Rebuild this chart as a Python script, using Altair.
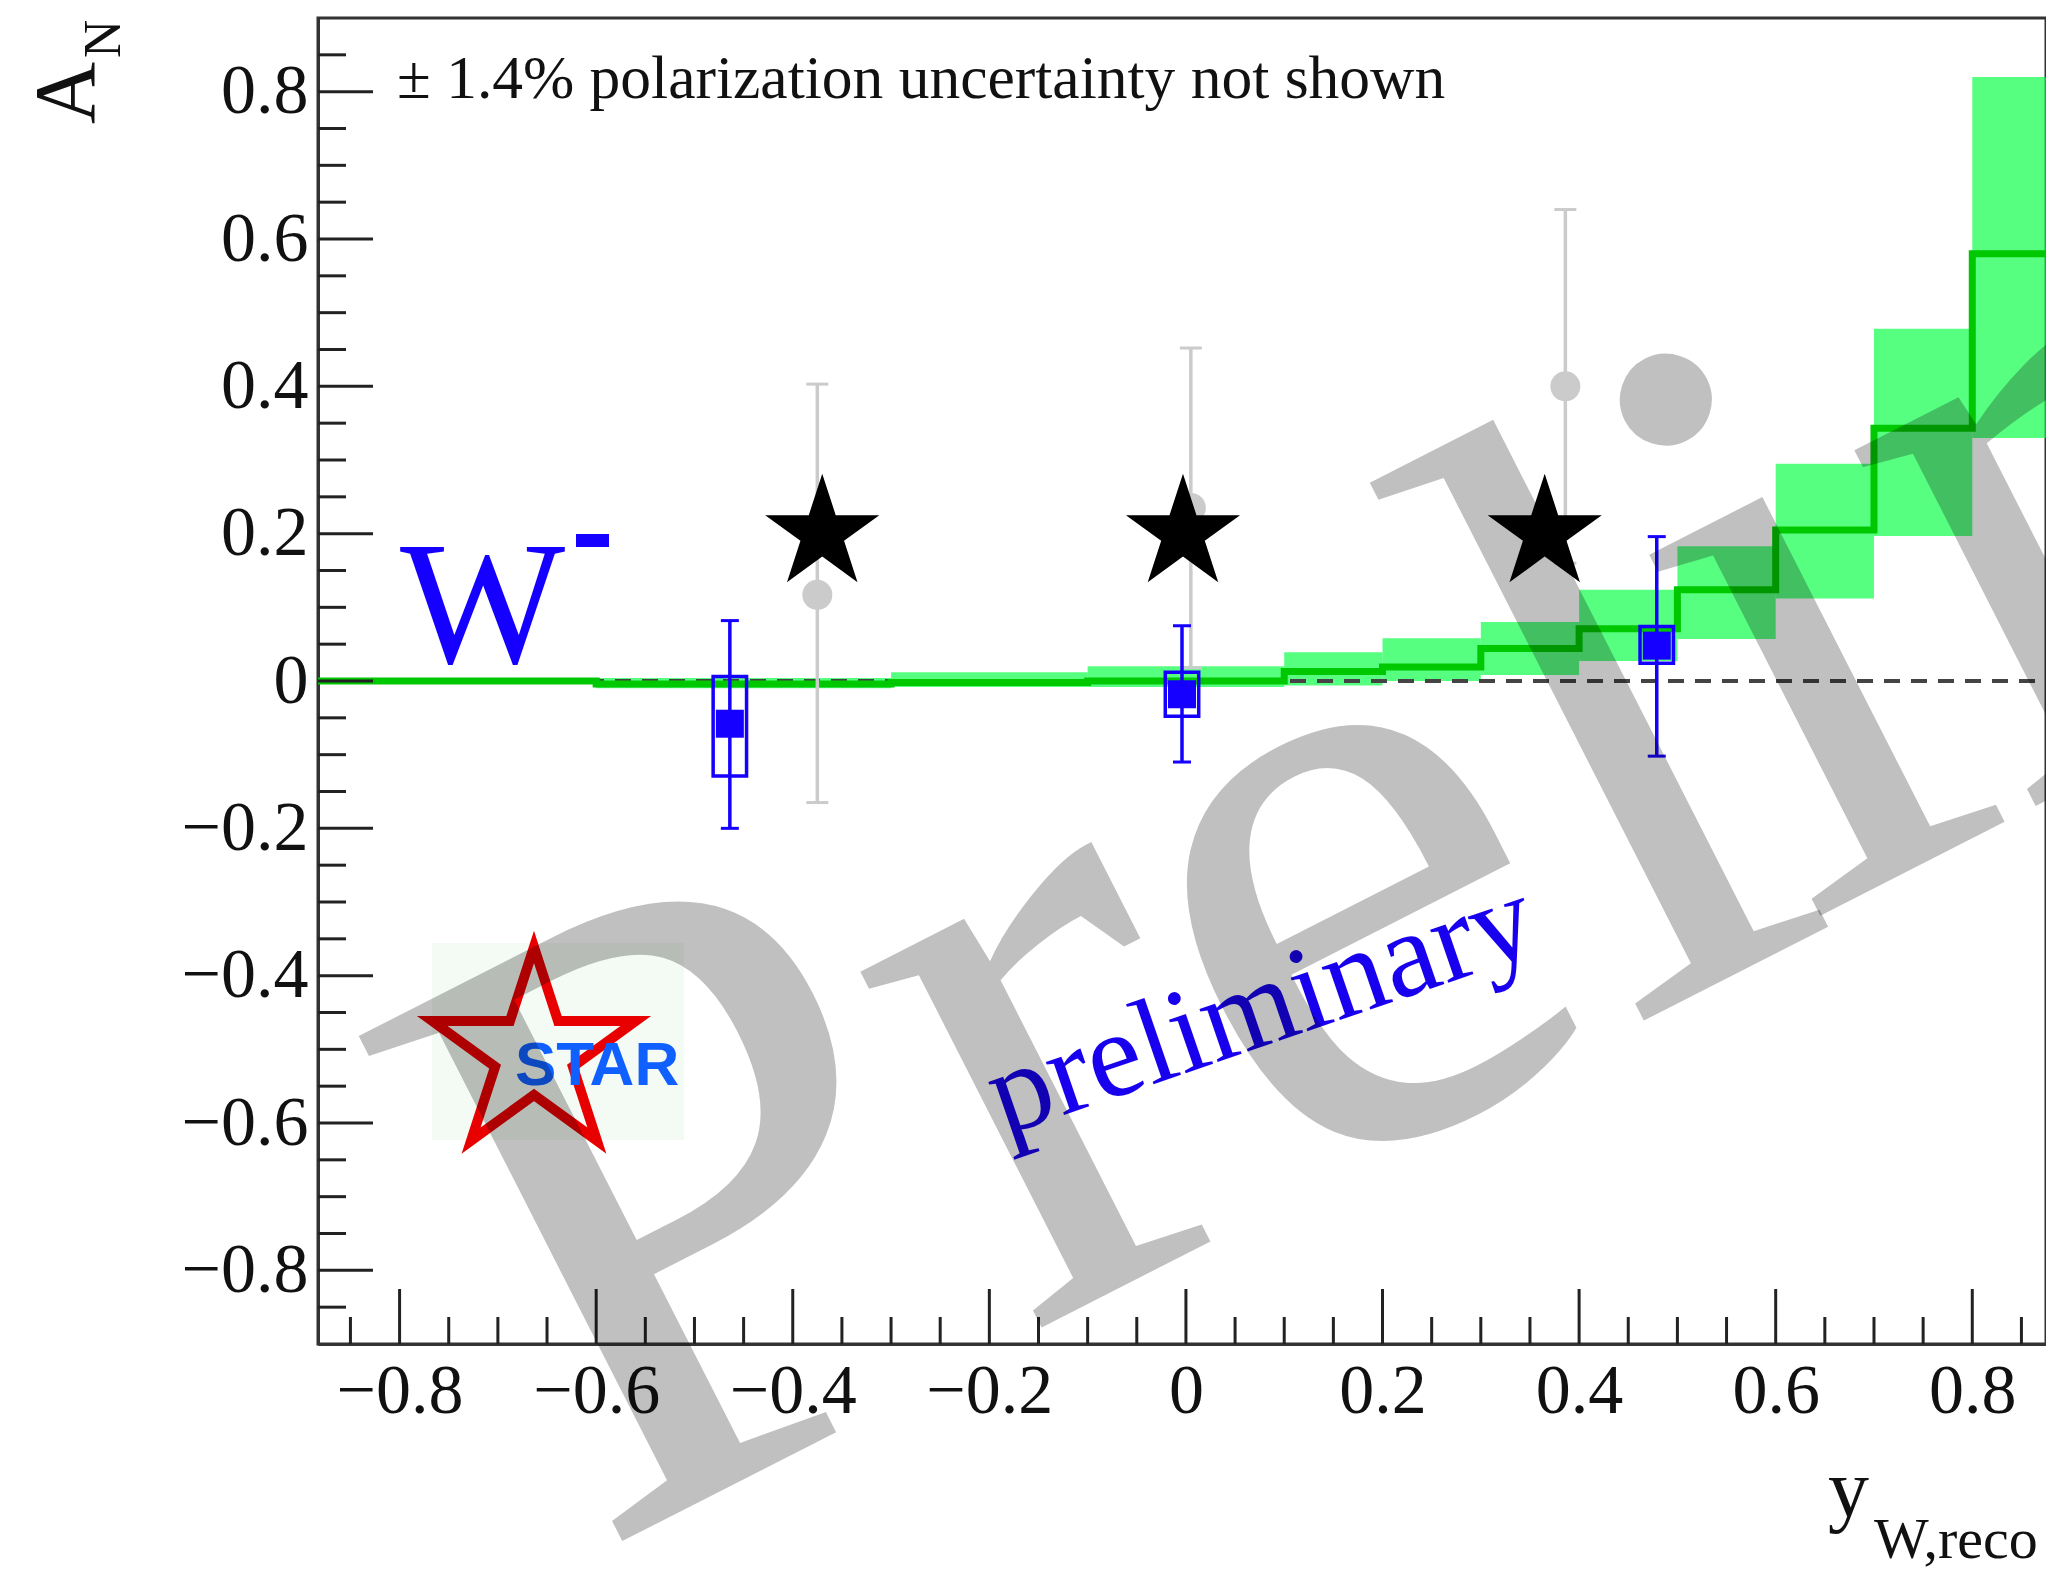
import altair as alt
import pandas as pd

# ---------------- data ----------------
# theory band (step histogram) : bin edges, central value, band limits
MODEL_LO = [-0.9, -0.6, -0.3, -0.1, 0.1, 0.2, 0.3, 0.4, 0.5, 0.6, 0.7, 0.8]
MODEL_HI = [-0.6, -0.3, -0.1, 0.1, 0.2, 0.3, 0.4, 0.5, 0.6, 0.7, 0.8, 0.9]
MODEL_AN = [0.000, -0.004, -0.002, 0.000, 0.013, 0.019, 0.044, 0.071, 0.124, 0.205, 0.343, 0.580]
BAND_LO = [0.000, -0.010, -0.008, -0.008, -0.006, 0.000, 0.008, 0.027, 0.057, 0.112, 0.197, 0.330]
BAND_HI = [0.000, 0.004, 0.012, 0.020, 0.039, 0.058, 0.080, 0.124, 0.183, 0.295, 0.478, 0.820]

# W- data (blue)
W_Y = [-0.464, -0.004, 0.479]
W_AN = [-0.058, -0.018, 0.048]
W_ERR_LO = [-0.200, -0.110, -0.102]
W_ERR_HI = [0.082, 0.075, 0.196]
W_SYS_LO = [-0.129, -0.048, 0.024]
W_SYS_HI = [0.006, 0.012, 0.074]

# grey points
G_Y = [-0.375, 0.005, 0.386]
G_AN = [0.117, 0.235, 0.400]
G_LO = [-0.165, 0.018, 0.160]
G_HI = [0.403, 0.452, 0.640]

# black stars
S_Y = [-0.370, -0.003, 0.365]
S_AN = [0.2, 0.2, 0.2]

# axis ticks
MAJOR = [-0.8, -0.6, -0.4, -0.2, 0.0, 0.2, 0.4, 0.6, 0.8]
MINOR = [round(-0.85 + 0.05 * i, 2) for i in range(35)]
MINOR = [v for v in MINOR if abs(v * 5 - round(v * 5)) > 1e-6]

# ---------------- layout / style ----------------
W, H = 1728, 1326
XDOM = [-0.883, 0.875]
YDOM = [-0.9, 0.9]
SERIF = "Liberation Serif"
BLUE = "#1500ff"
GREY = "#cbcbcb"
STAR_PATH = ("M0,-1L0.2245,-0.309L0.951,-0.309L0.3633,0.118L0.5878,0.809L0,0.382"
             "L-0.5878,0.809L-0.3633,0.118L-0.951,-0.309L-0.2245,-0.309Z")
SYS_HALF = 0.017

xs = alt.Scale(domain=XDOM, nice=False, zero=False)
ys = alt.Scale(domain=YDOM, nice=False, zero=False)

x_axis = alt.Axis(values=MAJOR, format=".1~f", labelFont=SERIF, labelFontSize=70,
                  labelColor="#111111", labelPadding=13, ticks=False, tickSize=0,
                  domainColor="#333333", domainWidth=3, grid=False, title=None,
                  labelFlush=False, labelOverlap=False)
y_axis = alt.Axis(values=MAJOR, format=".1~f", labelFont=SERIF, labelFontSize=70,
                  labelColor="#111111", labelPadding=10, ticks=False, tickSize=0,
                  domainColor="#333333", domainWidth=3, grid=False, title=None,
                  labelFlush=False, labelOverlap=False)


def X(f):
    return alt.X(f, scale=xs, axis=x_axis)


def Y(f):
    return alt.Y(f, scale=ys, axis=y_axis)


def txt(text, x, y, **kw):
    return alt.Chart(pd.DataFrame({"t": [text]})).mark_text(**kw).encode(
        x=alt.value(x), y=alt.value(y), text="t:N")


# ---------------- tables ----------------
band = pd.DataFrame({"lo": MODEL_LO, "hi": MODEL_HI, "blo": BAND_LO, "bhi": BAND_HI})
step_rows = []
for i, (lo, hi, v) in enumerate(zip(MODEL_LO, MODEL_HI, MODEL_AN)):
    step_rows.append({"x": lo, "y": v, "o": 2 * i})
    step_rows.append({"x": hi, "y": v, "o": 2 * i + 1})
step = pd.DataFrame(step_rows)

wdf = pd.DataFrame({"x": W_Y, "y": W_AN, "lo": W_ERR_LO, "hi": W_ERR_HI,
                    "slo": W_SYS_LO, "shi": W_SYS_HI,
                    "xl": [v - SYS_HALF for v in W_Y], "xh": [v + SYS_HALF for v in W_Y]})
gdf = pd.DataFrame({"x": G_Y, "y": G_AN, "lo": G_LO, "hi": G_HI})
sdf = pd.DataFrame({"x": S_Y, "y": S_AN})

layers = []

# theory band + dashed zero line + central step line
layers.append(alt.Chart(band).mark_rect(color="#00ff40", opacity=0.66, clip=True).encode(
    x=X("lo:Q"), x2="hi:Q", y=Y("blo:Q"), y2="bhi:Q"))
layers.append(alt.Chart(pd.DataFrame({"y": [0.0]})).mark_rule(
    strokeDash=[16, 11], strokeWidth=4, color="#444444").encode(
    y=Y("y:Q"), x=alt.value(0), x2=alt.value(W)))
layers.append(alt.Chart(step).mark_line(color="#00c800", strokeWidth=7, clip=True).encode(
    x=X("x:Q"), y=Y("y:Q"), order="o:Q"))

# grey points
layers.append(alt.Chart(gdf).mark_rule(color=GREY, strokeWidth=3.5).encode(
    x=X("x:Q"), y=Y("lo:Q"), y2="hi:Q"))
for f in ["lo", "hi"]:
    layers.append(alt.Chart(gdf).mark_tick(orient="horizontal", size=22, thickness=3,
                                           color=GREY, opacity=1).encode(
        x=X("x:Q"), y=Y(f + ":Q")))
layers.append(alt.Chart(gdf).mark_point(shape="circle", filled=True, size=900,
                                        color=GREY, opacity=1).encode(
    x=X("x:Q"), y=Y("y:Q")))

# blue W- points
layers.append(alt.Chart(wdf).mark_rect(fillOpacity=0, stroke=BLUE, strokeWidth=3.5).encode(
    x=X("xl:Q"), x2="xh:Q", y=Y("slo:Q"), y2="shi:Q"))
layers.append(alt.Chart(wdf).mark_rule(color=BLUE, strokeWidth=3.5).encode(
    x=X("x:Q"), y=Y("lo:Q"), y2="hi:Q"))
for f in ["lo", "hi"]:
    layers.append(alt.Chart(wdf).mark_tick(orient="horizontal", size=18, thickness=3,
                                           color=BLUE, opacity=1).encode(
        x=X("x:Q"), y=Y(f + ":Q")))
layers.append(alt.Chart(wdf).mark_point(shape="square", filled=True, size=784,
                                        color=BLUE, opacity=1).encode(
    x=X("x:Q"), y=Y("y:Q")))

# black stars
layers.append(alt.Chart(sdf).mark_point(shape=STAR_PATH, filled=True, size=14400,
                                        color="black", opacity=1).encode(
    x=X("x:Q"), y=Y("y:Q")))

# annotations
layers.append(txt("\u00b1 1.4% polarization uncertainty not shown", 79, 80,
                  font=SERIF, fontSize=61.5, align="left", baseline="alphabetic", color="#111111"))
layers.append(txt("W", 82, 644, font=SERIF, fontSize=175, align="left",
                  baseline="alphabetic", color=BLUE))
layers.append(alt.Chart(pd.DataFrame({"a": [0]})).mark_rect(color=BLUE).encode(
    x=alt.value(258), x2=alt.value(291), y=alt.value(516), y2=alt.value(529)))
layers.append(txt("preliminary", 943, 990, font=SERIF, fontSize=122, angle=341,
                  align="center", baseline="middle", color="#1800ee"))

# STAR logo
layers.append(alt.Chart(pd.DataFrame({"a": [0]})).mark_rect(color="#f4faf4").encode(
    x=alt.value(114), x2=alt.value(366), y=alt.value(925), y2=alt.value(1122)))
layers.append(alt.Chart(pd.DataFrame({"a": [0]})).mark_point(
    shape=STAR_PATH, filled=False, size=45796, stroke="#e80000", strokeWidth=10,
    opacity=1).encode(x=alt.value(216), y=alt.value(1036)))
layers.append(txt("STAR", 197, 1067, font="Liberation Sans", fontWeight="bold",
                  fontSize=62, align="left", baseline="alphabetic", color="#1060ff"))

# axis titles
layers.append(txt("A", -224, 106, font=SERIF, fontSize=86, angle=270, align="left",
                  baseline="alphabetic", color="#111111"))
layers.append(txt("N", -198, 40, font=SERIF, fontSize=53, angle=270, align="left",
                  baseline="alphabetic", color="#111111"))
layers.append(txt("y", 1510, 1498, font=SERIF, fontSize=82, align="left",
                  baseline="alphabetic", color="#111111"))
layers.append(txt("W,reco", 1556, 1540, font=SERIF, fontSize=58, align="left",
                  baseline="alphabetic", color="#111111"))

# inside ticks (ROOT style)
layers.append(alt.Chart(pd.DataFrame({"v": MAJOR})).mark_rule(color="#222222", strokeWidth=3).encode(
    x=X("v:Q"), y=alt.value(H), y2=alt.value(H - 55)))
layers.append(alt.Chart(pd.DataFrame({"v": MINOR})).mark_rule(color="#222222", strokeWidth=3).encode(
    x=X("v:Q"), y=alt.value(H), y2=alt.value(H - 27)))
layers.append(alt.Chart(pd.DataFrame({"v": MAJOR})).mark_rule(color="#222222", strokeWidth=3).encode(
    y=Y("v:Q"), x=alt.value(0), x2=alt.value(55)))
layers.append(alt.Chart(pd.DataFrame({"v": MINOR})).mark_rule(color="#222222", strokeWidth=3).encode(
    y=Y("v:Q"), x=alt.value(0), x2=alt.value(28)))

# big grey watermark (multiplied on top), set in two pieces
WM = dict(font=SERIF, fontSize=870, angle=333, align="left", baseline="alphabetic",
          color="#c0c0c0", blend="multiply")
layers.append(txt("Prel", 277, 1537, **WM))
layers.append(txt("iminary", 1486, 906, **WM))

chart = alt.layer(*layers).properties(
    width=W, height=H,
    autosize=alt.AutoSizeParams(type="none"),
    padding={"left": 310, "top": 10, "right": 0, "bottom": 230},
).configure_view(stroke="#333333", strokeWidth=3)

chart.save("out.html", embed_options={"renderer": "svg", "actions": False})
